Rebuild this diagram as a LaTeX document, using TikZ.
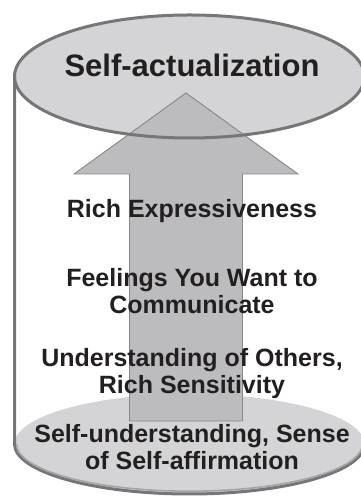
\documentclass[tikz,border=0pt]{standalone}
\usepackage{fontspec}
\setmainfont{Liberation Sans}
\definecolor{capfill}{RGB}{212,212,214}
\definecolor{arrowfill}{RGB}{188,188,191}
\definecolor{rimline}{RGB}{118,118,120}
\definecolor{rimlight}{RGB}{165,165,168}
\definecolor{arrowline}{RGB}{135,135,138}
\definecolor{ink}{RGB}{35,31,32}
\begin{document}
\begin{tikzpicture}[x=1pt,y=1pt,
  rim/.style={draw=rimline,line width=3pt},
  label/.style={font=\bfseries\fontsize{25}{27}\selectfont,text=ink,align=center,inner sep=0pt},
  titlelabel/.style={font=\bfseries\fontsize{31}{33}\selectfont,text=ink,inner sep=0pt}]
\useasboundingbox (0,0) rectangle (360,497);

% cylinder geometry
\coordinate (topc) at (189.5,420.5);
\coordinate (botc) at (189.5,53);

% end faces (fills)
\fill[capfill] (botc) ellipse [x radius=175, y radius=50];
\fill[capfill] (topc) ellipse [x radius=175, y radius=61.5];

% upward arrow through the cylinder
\filldraw[fill=arrowfill,draw=arrowline,line width=0.9pt,line join=miter]
  (186,404) -- (298,323) -- (242.5,323) -- (242.5,76)
  -- (129.5,76) -- (129.5,323) -- (74,323) -- cycle;

% top rim over the arrow
\draw[rim] (topc) ellipse [x radius=175, y radius=61.5];

% left wall and bottom rim (the right wall lies past the edge)
\draw[rim,line join=round]
  (14.5,420.5) -- (14.5,53)
  arc[start angle=180,end angle=360,x radius=175,y radius=50];
\draw[rimlight,line width=1.6pt]
  (16.5,53) arc[start angle=180,end angle=360,x radius=173,y radius=47.2];

% labels
\node[titlelabel,anchor=base] (top) at (192,420) {Self-actualization};
\node[label,anchor=base] (expr) at (192,279) {Rich Expressiveness};
\node[label] (feel) at (192,206) {Feelings You Want to\\Communicate};
\node[label] (others) at (192,123.5) {Understanding of Others,\\Rich Sensitivity};
\node[label] (self) at (192,49.6) {Self-understanding, Sense\\of Self-affirmation};
\end{tikzpicture}
\end{document}
